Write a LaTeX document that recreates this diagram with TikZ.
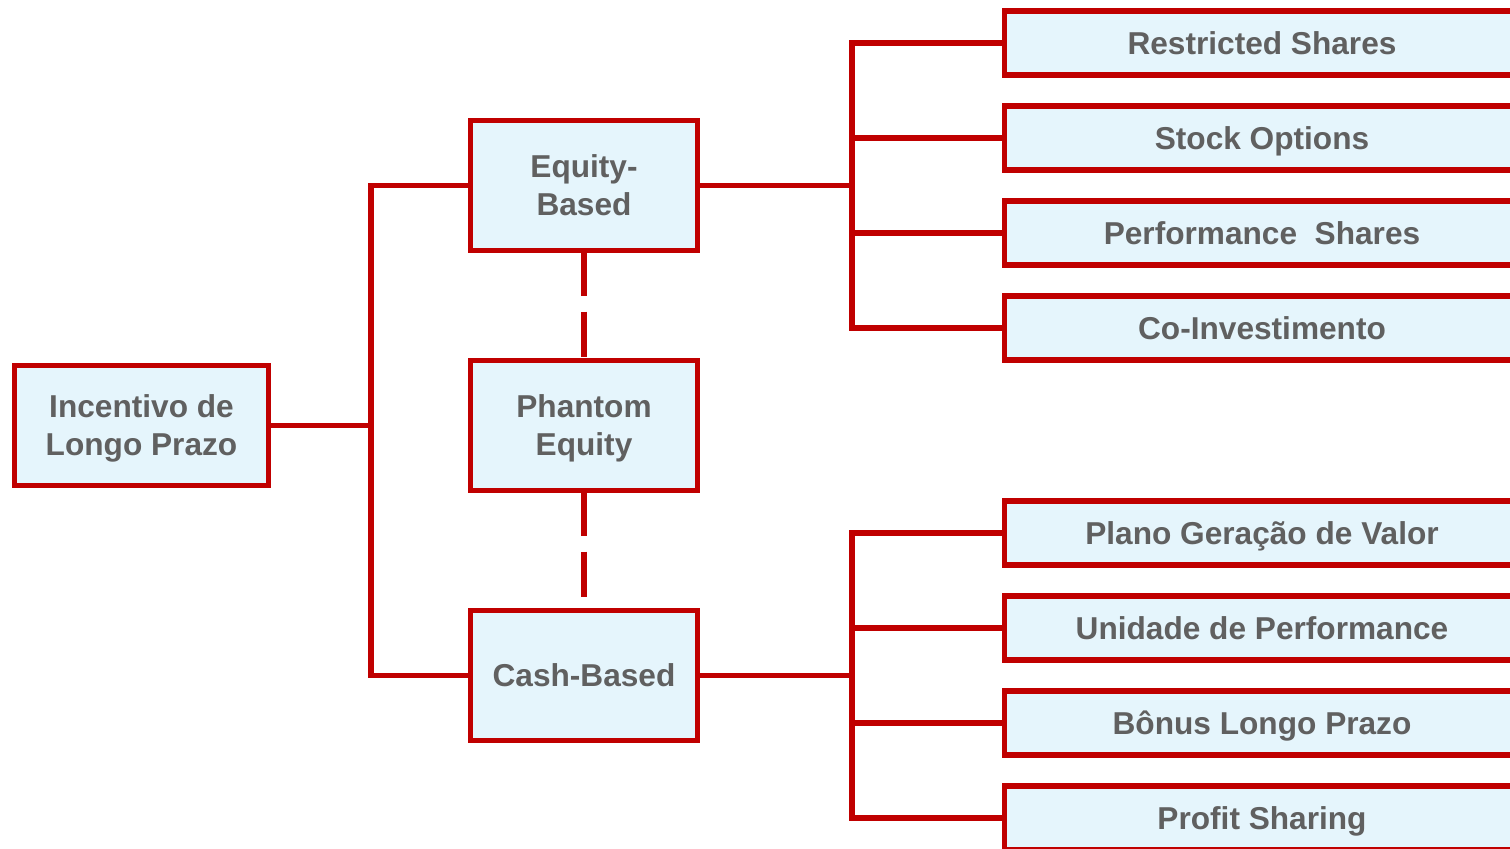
\documentclass[tikz,border=0pt]{standalone}
\usepackage{fontspec}
\setmainfont{Liberation Sans}
\usepackage{tikz}
\usepackage{xcolor}
\definecolor{boxred}{RGB}{192,0,0}
\definecolor{boxfill}{RGB}{229,245,252}
\definecolor{boxtext}{RGB}{96,96,96}

\begin{document}
\begin{tikzpicture}%
  [grow'=right,line width=0.11cm,
   level 1/.style={level distance=8.85cm,sibling distance=4.9cm,
     edge from parent path={(\tikzparentnode.east) -- ++(2.05cm,0) |- (\tikzchildnode.west)}},
   level 2/.style={level distance=13.56cm,sibling distance=1.9cm,
     edge from parent path={(\tikzparentnode.east) -- ++(3.09cm,0) |- (\tikzchildnode.west)}},
   edge from parent/.style={draw=boxred}]
  \tikzstyle{base node}=[rectangle,draw=boxred,fill=boxfill,text=boxtext,outer sep=0,inner sep=0,
    text depth=0pt,align=center,font=\fontsize{18}{21.6}\selectfont\bfseries]
  \tikzstyle{root node}=[base node,minimum width=5.08cm,minimum height=2.4cm]
  \tikzstyle{kind node}=[base node,minimum width=4.54cm,minimum height=2.6cm]
  \tikzstyle{plan node}=[base node,minimum width=10.3cm,minimum height=1.28cm]
  \clip (0,0) rectangle (30.2,-16.96);
  \node(ilp)[root node] at (2.83,-8.51) {Incentivo de\\Longo Prazo}
    child[yshift=-0.1cm]{node(eq)[kind node]{Equity-\\Based}
      child{node(rs)[plan node]{Restricted Shares}}
      child{node(so)[plan node]{Stock Options}}
      child{node(ps)[plan node]{Performance~~Shares}}
      child{node(ci)[plan node]{Co-Investimento}}}
    child[edge from parent/.style={draw=none}]{node(ph)[kind node]{Phantom\\Equity}}
    child[yshift=-0.1cm]{node(cb)[kind node]{Cash-Based}
      child{node(pg)[plan node]{Plano Geração de Valor}}
      child{node(up)[plan node]{Unidade de Performance}}
      child{node(bl)[plan node]{Bônus Longo Prazo}}
      child{node(pr)[plan node]{Profit Sharing}}
    };
  \draw[boxred,dash pattern=on 0.9cm off 0.32cm] (eq) -- (ph) (ph) -- (cb);
\end{tikzpicture}
\end{document}
